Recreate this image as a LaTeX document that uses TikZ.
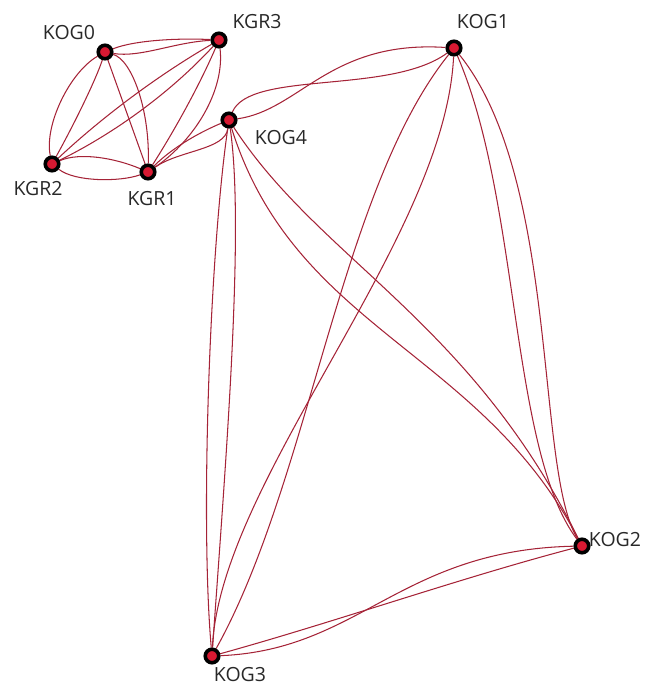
\documentclass[tikz,border=0pt]{standalone}
\usepackage{fontspec}
\setmainfont{Open Sans}
\usetikzlibrary{backgrounds}
\definecolor{edgecol}{RGB}{165,35,55}
\definecolor{nodefill}{RGB}{215,25,50}
\definecolor{labcol}{RGB}{40,40,40}
\begin{document}
\begin{tikzpicture}[x=1pt,y=-1pt,
  vert/.style={circle,draw=black,line width=3.6pt,fill=nodefill,minimum size=13.5pt,inner sep=0pt},
  lab/.style={font=\fontsize{19.5}{22}\selectfont,text=labcol,inner sep=0pt},
  link/.style={draw=edgecol,line width=1.05pt}]
\useasboundingbox (0,0) rectangle (649,686);
% vertices
\node[vert] (kog0) at (105,52) {};
\node[vert] (kgr3) at (219,40) {};
\node[vert] (kgr2) at (52,164) {};
\node[vert] (kgr1) at (148,172) {};
\node[vert] (kog4) at (229,120) {};
\node[vert] (kog1) at (454,48) {};
\node[vert] (kog2) at (582,546) {};
\node[vert] (kog3) at (212,656) {};
% labels
\node[lab] (l-kog0) at (69,33) {KOG0};
\node[lab] (l-kgr3) at (257,22) {KGR3};
\node[lab] (l-kgr2) at (38,189) {KGR2};
\node[lab] (l-kgr1) at (152,199) {KGR1};
\node[lab] (l-kog4) at (281,138) {KOG4};
\node[lab] (l-kog1) at (483,22) {KOG1};
\node[lab] (l-kog2) at (615,540) {KOG2};
\node[lab] (l-kog3) at (240,675) {KOG3};
\begin{pgfonlayer}{background}
% cluster KOG0 / KGR1 / KGR2 / KGR3
\draw[link] (kog0) .. controls (135,40) and (180,38) .. (kgr3);
\draw[link] (kog0) .. controls (140,58) and (175,42) .. (kgr3);
\draw[link] (kog0) .. controls (70,72) and (44,125) .. (kgr2);
\draw[link] (kog0) .. controls (95,82) and (72,128) .. (kgr2);
\draw[link] (kog0) -- (kgr1);
\draw[link] (kog0) .. controls (132,60) and (150,110) .. (kgr1);
\draw[link] (kgr3) .. controls (158.5,75) and (103,116.3) .. (kgr2);
\draw[link] (kgr3) .. controls (171,92) and (115,133) .. (kgr2);
\draw[link] (kgr3) .. controls (200,84) and (176,128) .. (kgr1);
\draw[link] (kgr3) .. controls (225,90) and (195,140) .. (kgr1);
\draw[link] (kgr2) .. controls (80,152) and (115,158) .. (kgr1);
\draw[link] (kgr2) .. controls (75,182) and (120,182) .. (kgr1);
\draw[link] (kgr1) .. controls (180,150) and (225,150) .. (kog4);
\draw[link] (kgr1) .. controls (175,145) and (205,130) .. (kog4);
% cluster KOG1 / KOG2 / KOG3 / KOG4
\draw[link] (kog4) .. controls (250,70) and (390,95) .. (kog1);
\draw[link] (kog4) .. controls (300,110) and (330,40) .. (kog1);
\draw[link] (kog4) .. controls (320,260) and (470,320) .. (kog2);
\draw[link] (kog4) .. controls (295,330) and (480,350) .. (kog2);
\draw[link] (kog4) .. controls (210,250) and (200,520) .. (kog3);
\draw[link] (kog4) .. controls (245,230) and (225,470) .. (kog3);
\draw[link] (kog1) .. controls (520,200) and (510,450) .. (kog2);
\draw[link] (kog1) .. controls (560,180) and (535,470) .. (kog2);
\draw[link] (kog1) .. controls (340,190) and (310,480) .. (kog3);
\draw[link] (kog1) .. controls (445,240) and (220,480) .. (kog3);
\draw[link] (kog3) .. controls (360,650) and (400,550) .. (kog2);
\draw[link] (kog3) .. controls (335,622) and (460,578) .. (kog2);
\end{pgfonlayer}
\end{tikzpicture}
\end{document}
